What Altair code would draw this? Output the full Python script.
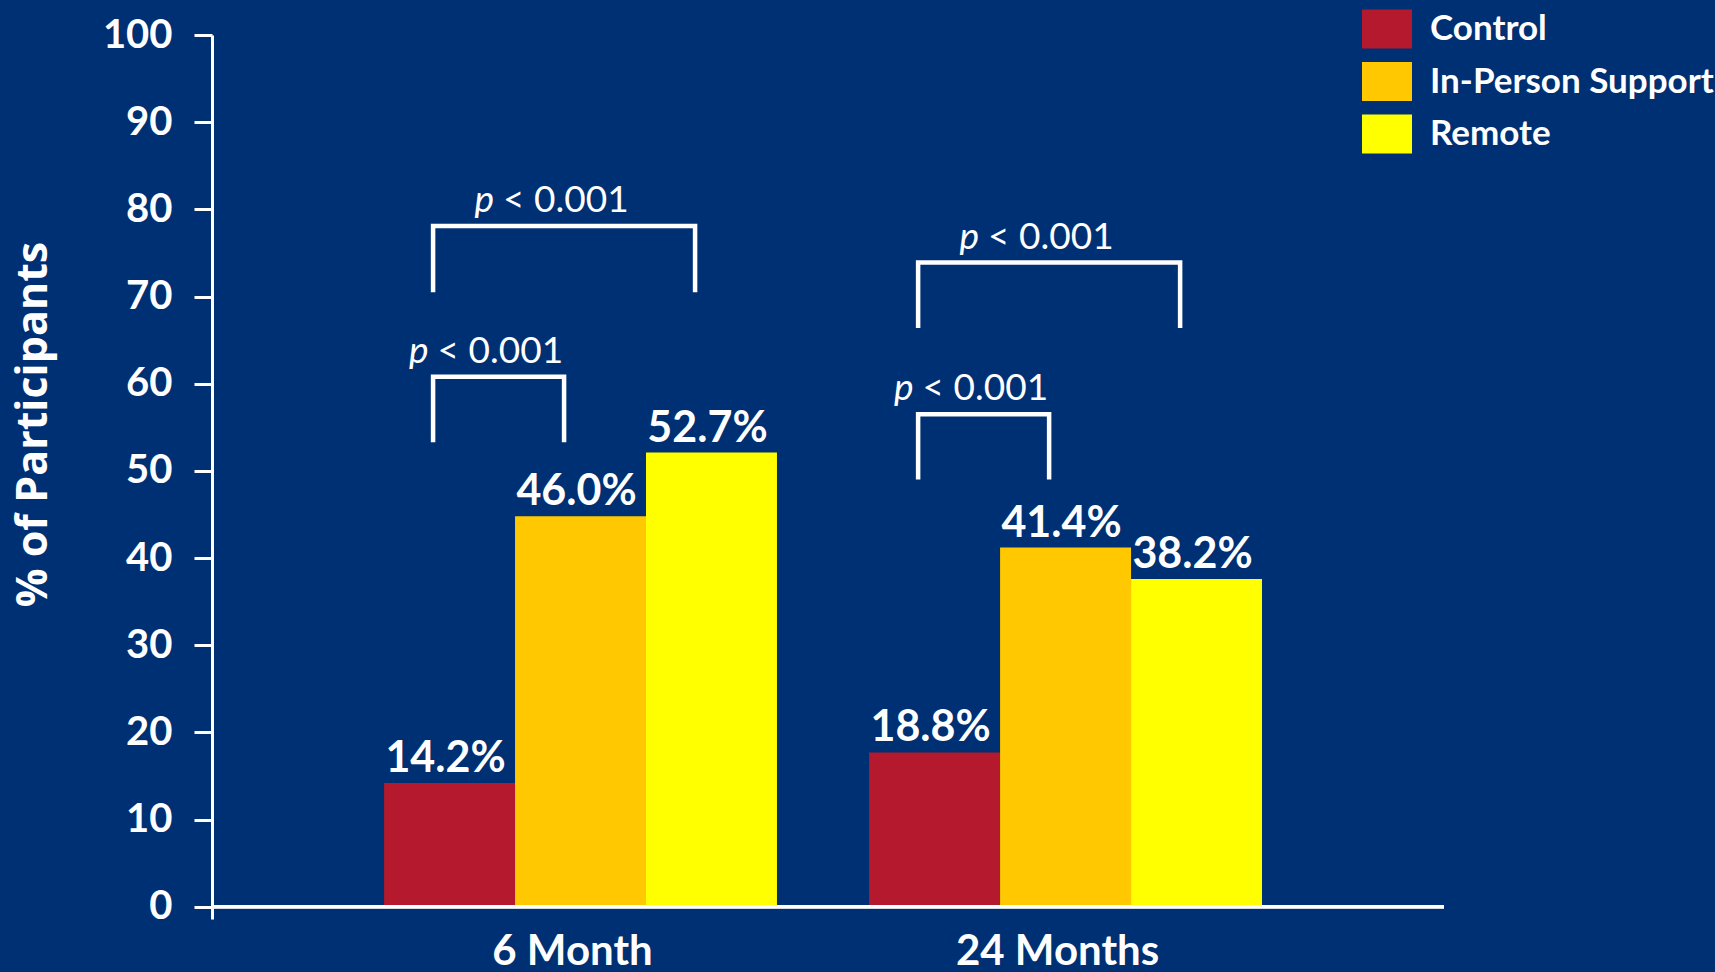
import altair as alt
import pandas as pd

# ---- data ----
periods = ["6 Month", "24 Months"]
groups = ["Control", "In-Person Support", "Remote"]
colors = ["#B4192E", "#FFC800", "#FFFF00"]
# bar heights as drawn
heights_6m = [14.2, 44.8, 52.1]
heights_24m = [17.7, 41.2, 37.6]
# printed value labels
labels_6m = ["14.2%", "46.0%", "52.7%"]
labels_24m = ["18.8%", "41.4%", "38.2%"]

# significance brackets (from group, to group, top of bracket, bottom of legs)
br_period = ["6 Month", "6 Month", "24 Months", "24 Months"]
br_from = ["Control", "Control", "Control", "Control"]
br_to = ["Remote", "In-Person Support", "Remote", "In-Person Support"]
br_top = [78.1, 60.8, 73.9, 56.5]
br_bottom = [70.5, 53.3, 66.4, 49.0]
p_label = "< 0.001"

# ---- tables ----
bar_rows = []
for p, hs, ls in zip(periods, [heights_6m, heights_24m], [labels_6m, labels_24m]):
    for g, v, lab in zip(groups, hs, ls):
        bar_rows.append({"period": p, "group": g, "value": v, "label": lab, "zero": 0})
bars_df = pd.DataFrame(bar_rows)

anchors = ["Control", "Control|In-Person Support", "In-Person Support",
           "In-Person Support|Remote", "Remote"]

line_rows, text_rows = [], []
for i, (p, a, b, t, bt) in enumerate(zip(br_period, br_from, br_to, br_top, br_bottom)):
    for k, (g, yv) in enumerate([(a, bt), (a, t), (b, t), (b, bt)]):
        line_rows.append({"bracket": i, "period": p, "anchor": g, "value": yv, "ord": k})
    ia, ib = groups.index(a), groups.index(b)
    if ib - ia == 1:
        mid = a + "|" + b
    else:
        mid = groups[(ia + ib) // 2]
    text_rows.append({"period": p, "anchor": mid, "value": t, "p": "p", "rest": p_label})
lines_df = pd.DataFrame(line_rows)
texts_df = pd.DataFrame(text_rows)

# ---- scales / encodings ----
x_scale = alt.Scale(paddingInner=0.19, paddingOuter=0.365, align=0.486)
y_scale = alt.Scale(domain=[-1.4, 100], nice=False, zero=False)
anchor_scale = alt.Scale(type="point", domain=anchors, range=[49, 311], padding=0)
center_scale = alt.Scale(type="point", domain=groups, padding=0.5)

x_axis = alt.Axis(title=None, domain=False, ticks=False, labelAngle=0,
                  labelFontSize=42, labelFontWeight="bold", labelColor="white",
                  labelPadding=12, labelOffset=-8, labelBaseline="top", labelLimit=500)
y_axis = alt.Axis(values=list(range(0, 101, 10)), grid=False,
                  title="% of Participants", titleFontSize=43, titleFont="Open Sans",
                  titleFontWeight="bold", titleColor="white",
                  titleAngle=270, titleX=-179, titleY=389,
                  titleAlign="center", titleBaseline="middle", titleLimit=800,
                  labelFontSize=40, labelFontWeight="bold", labelColor="white",
                  labelPadding=22, tickSize=18, tickWidth=3, tickColor="white",
                  domainColor="white", domainWidth=3)


def X():
    return alt.X("period:N", sort=periods, scale=x_scale, axis=x_axis)


def Y(field="value"):
    return alt.Y(f"{field}:Q", scale=y_scale, axis=y_axis)


bars = alt.Chart(bars_df).mark_bar().encode(
    x=X(),
    xOffset=alt.XOffset("group:N", sort=groups,
                        scale=alt.Scale(paddingInner=0, paddingOuter=0)),
    y=Y(),
    y2="zero:Q",
    color=alt.Color("group:N", sort=groups,
                    scale=alt.Scale(domain=groups, range=colors),
                    legend=alt.Legend(title=None, orient="none", legendX=1150, legendY=-31,
                                      symbolType="M-1,-0.78H1V0.78H-1Z", symbolSize=2500,
                                      symbolStrokeWidth=0, symbolOpacity=1,
                                      labelFontSize=35, labelFontWeight="bold",
                                      labelColor="white", labelOffset=18,
                                      rowPadding=7.5, padding=0, labelLimit=400)),
)

baseline_rule = alt.Chart(bars_df).mark_rule(color="white", strokeWidth=3).encode(
    y=Y("zero"),
)

value_text = alt.Chart(bars_df).mark_text(
    color="white", fontSize=43, fontWeight="bold", baseline="alphabetic", dy=-11, dx=-4
).encode(
    x=X(),
    xOffset=alt.XOffset("group:N", scale=center_scale),
    y=Y(),
    text="label:N",
)

brackets = alt.Chart(lines_df).mark_line(
    color="white", strokeWidth=4.5, strokeJoin="miter", strokeCap="butt"
).encode(
    x=X(),
    xOffset=alt.XOffset("anchor:N", scale=anchor_scale),
    y=Y(),
    detail="bracket:N",
    order="ord:Q",
)

p_text = alt.Chart(texts_df).mark_text(
    color="white", fontSize=37, fontStyle="italic", align="right",
    baseline="alphabetic", dx=-70, dy=-14
).encode(
    x=X(),
    xOffset=alt.XOffset("anchor:N", scale=anchor_scale),
    y=Y(),
    text="p:N",
)

rest_text = alt.Chart(texts_df).mark_text(
    color="white", fontSize=37, align="left",
    baseline="alphabetic", dx=-61, dy=-14
).encode(
    x=X(),
    xOffset=alt.XOffset("anchor:N", scale=anchor_scale),
    y=Y(),
    text="rest:N",
)

chart = alt.layer(bars, baseline_rule, value_text, brackets, p_text, rest_text).resolve_scale(
    xOffset="independent"
).properties(
    width=1232, height=884,
    autosize=alt.AutoSizeParams(type="none"),
    padding={"left": 212, "top": 35, "right": 271, "bottom": 53},
    background="#003074",
).configure(
    font="Lato",
).configure_view(stroke=None)

chart.save("out.html", embed_options={"renderer": "svg", "actions": False})
